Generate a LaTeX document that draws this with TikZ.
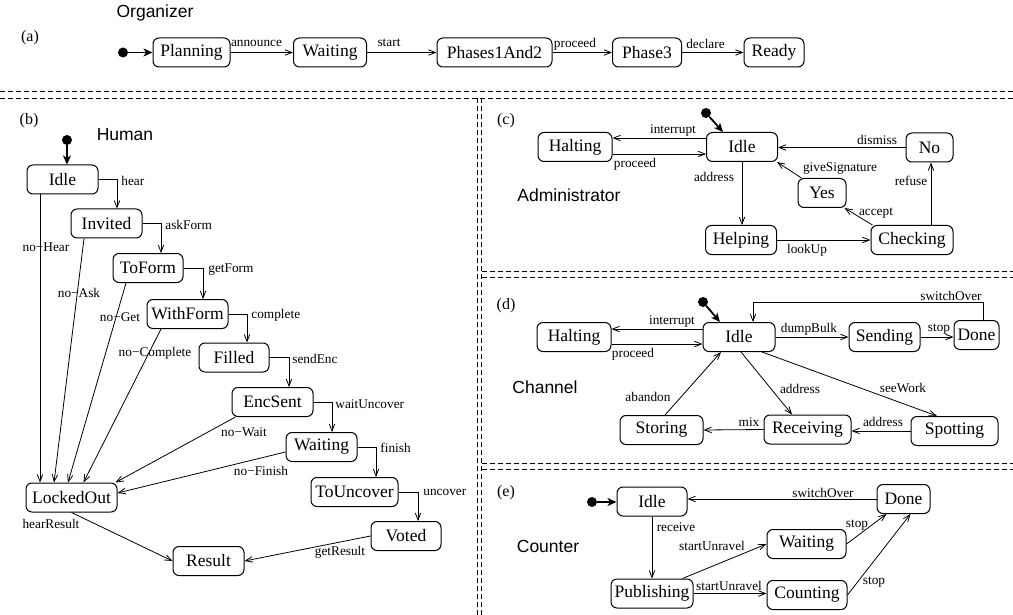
\documentclass[tikz,border=0pt]{standalone}
\usepackage{fontspec}
\setmainfont{Liberation Serif}
\newfontfamily\sansf{Liberation Sans}
\usetikzlibrary{arrows.meta}
\begin{document}
\begin{tikzpicture}[x=1pt,y=-1pt,
  state/.style={draw, line width=1pt, rounded corners=6pt, minimum height=29pt,
    inner sep=0pt, font=\fontsize{17.5}{20}\selectfont},
  tr/.style={line width=0.8pt, -{Straight Barb[length=7pt,width=5.5pt]}},
  lab/.style={inner sep=0pt, font=\fontsize{13.3}{15}\selectfont},
  init/.style={line width=1.8pt, -{Stealth[length=9pt,width=8pt,inset=2.5pt]}},
  dot/.style={circle, fill, inner sep=0pt, minimum size=10pt},
  sep/.style={line width=0.8pt, dash pattern=on 5pt off 3pt},
  title/.style={font=\sansf\fontsize{17.5}{20}\selectfont, inner sep=0pt},
  tag/.style={font=\fontsize{16}{18}\selectfont, inner sep=0pt}]
\useasboundingbox (0,0) rectangle (1013,615);

% panel separators
\draw[sep] (0,91.5) -- (1013,91.5);
\draw[sep] (0,98) -- (1013,98);
\draw[sep] (477.5,98) -- (477.5,615);
\draw[sep] (481.5,98) -- (481.5,615);
\draw[sep] (481.5,271) -- (1013,271);
\draw[sep] (481.5,277) -- (1013,277);
\draw[sep] (481.5,463) -- (1013,463);
\draw[sep] (481.5,469) -- (1013,469);

% ---------------- (a) Organizer ----------------
\node[title] (t-org) at (155,13) {Organizer};
\node[tag] (tag-a) at (30,38) {(a)};
\node[dot] (a0) at (123,52.5) {};
\node[state, minimum width=77pt] (planning) at (191.5,52.5) {Planning};
\node[state, minimum width=73pt] (waitA) at (330,52.5) {Waiting};
\node[state, minimum width=115pt] (phases) at (494.5,52.5) {Phases1And2};
\node[state, minimum width=69pt] (phase3) at (647,52.5) {Phase3};
\node[state, minimum width=60pt] (ready) at (774,52.5) {Ready};
\draw[init] (a0) -- (planning);
\draw[tr] (planning) -- (waitA);
\draw[tr] (waitA) -- (phases);
\draw[tr] (phases) -- (phase3);
\draw[tr] (phase3) -- (ready);
\node[lab] (l-announce) at (256.5,43) {announce};
\node[lab] (l-start) at (389,43) {start};
\node[lab] (l-proceedA) at (575,44.5) {proceed};
\node[lab] (l-declare) at (705.5,43.5) {declare};

% ---------------- (b) Human ----------------
\node[tag] (tag-b) at (29,121) {(b)};
\node[title] (t-human) at (125,135) {Human};
\node[dot] (b0) at (67,140) {};
\node[state, minimum width=71pt] (idleb) at (62.5,179.5) {Idle};
\node[state, minimum width=71pt] (invited) at (106.5,223.5) {Invited};
\node[state, minimum width=70pt] (toform) at (148,268) {ToForm};
\node[state, minimum width=81pt] (withform) at (187.5,314) {WithForm};
\node[state, minimum width=70pt] (filled) at (234,357.5) {Filled};
\node[state, minimum width=81pt] (encsent) at (272.5,402) {EncSent};
\node[state, minimum width=71pt] (waitB) at (321.5,447) {Waiting};
\node[state, minimum width=87pt] (touncover) at (354.5,492) {ToUncover};
\node[state, minimum width=70pt] (voted) at (406,536) {Voted};
\node[state, minimum width=71pt] (result) at (208.5,561) {Result};
\node[state, minimum width=91pt] (locked) at (71.5,497.5) {LockedOut};
\draw[init] (b0) -- (b0 |- idleb.north);

% forward steps
\draw[tr] (idleb.east) -| node[lab, anchor=west, pos=0.5, xshift=4pt, yshift=-1pt] (l-hear) {hear} ([xshift=10.5pt]invited.north);
\draw[tr] (invited.east) -| node[lab, anchor=west, pos=0.5, xshift=4pt, yshift=-1.5pt] (l-askform) {askForm} ([xshift=13pt]toform.north);
\draw[tr] (toform.east) -| node[lab, anchor=west, pos=0.5, xshift=5pt, yshift=-1.5pt] (l-getform) {getForm} ([xshift=15.5pt]withform.north);
\draw[tr] (withform.east) -| node[lab, anchor=west, pos=0.5, xshift=4pt, yshift=-1pt] (l-complete) {complete} ([xshift=13pt]filled.north);
\draw[tr] (filled.east) -| node[lab, anchor=west, pos=0.5, xshift=3pt, yshift=-1pt] (l-sendenc) {sendEnc} ([xshift=16.5pt]encsent.north);
\draw[tr] (encsent.east) -| node[lab, anchor=west, pos=0.5, xshift=3pt, yshift=-2pt] (l-waituncover) {waitUncover} ([xshift=10.5pt]waitB.north);
\draw[tr] (waitB.east) -| node[lab, anchor=west, pos=0.5, xshift=4pt, yshift=-1pt] (l-finish) {finish} ([xshift=21.5pt]touncover.north);
\draw[tr] (touncover.east) -| node[lab, anchor=west, pos=0.5, xshift=5pt, yshift=0pt] (l-uncover) {uncover} ([xshift=12pt]voted.north);

% ways out
\draw[tr] ([xshift=-22.5pt]idleb.south) -- ([xshift=-22.5pt]idleb.south |- locked.north);
\draw[tr] ([xshift=-22.5pt]invited.south) -- ([xshift=-17.5pt]locked.north);
\draw[tr] ([xshift=-22pt]toform.south) -- ([xshift=-3.5pt]locked.north);
\draw[tr] ([xshift=-26.5pt]withform.south) -- ([xshift=12pt]locked.north);
\draw[tr] ([xshift=4pt]encsent.south west) -- ([xshift=-2pt]locked.north east);
\draw[tr] ([yshift=-5pt]waitB.west) -- ([yshift=4.5pt]locked.east);
\draw[tr] (locked.south) -- (result.west);
\draw[tr] (voted.west) -- (result.east);
\node[lab] (l-nohear) at (46,247) {no−Hear};
\node[lab] (l-noask) at (79,293) {no−Ask};
\node[lab] (l-noget) at (120,317) {no−Get};
\node[lab] (l-nocomplete) at (155,353) {no−Complete};
\node[lab] (l-nowait) at (244,432) {no−Wait};
\node[lab] (l-nofinish) at (261,471) {no−Finish};
\node[lab] (l-hearresult) at (51,524) {hearResult};
\node[lab] (l-getresult) at (340,552) {getResult};

% ---------------- (c) Administrator ----------------
\node[tag] (tag-c) at (506,121) {(c)};
\node[title] (t-admin) at (569,195) {Administrator};
\node[dot] (c0) at (706,113) {};
\node[state, minimum width=74pt] (haltc) at (575,147) {Halting};
\node[state, minimum width=71pt] (idlec) at (742,147) {Idle};
\node[state, minimum width=71pt] (helping) at (741,240) {Helping};
\node[state, minimum width=82pt] (checking) at (912,240) {Checking};
\node[state, minimum width=47pt] (noc) at (929.5,147.5) {No};
\node[state, minimum width=48pt] (yes) at (822,193) {Yes};
\draw[init] (c0) -- ([xshift=-19pt]idlec.north);
\draw[tr] ([yshift=9pt]idlec.west) -- ([yshift=9pt]idlec.west -| haltc.east);
\draw[tr] ([yshift=-7pt]haltc.east) -- ([yshift=-7pt]haltc.east -| idlec.west);
\draw[tr] (idlec.south) -- (idlec.south |- helping.north);
\draw[tr] (helping.east) -- (helping.east -| checking.west);
\draw[tr] ([xshift=19pt]checking.north) -- ([xshift=19pt]checking.north |- noc.south);
\draw[tr] (noc.west) -- (noc.west -| idlec.east);
\draw[tr] ([xshift=2pt]checking.north west) -- ([xshift=-2pt]yes.south east);
\draw[tr] ([xshift=4pt]yes.north west) -- ([xshift=-1pt]idlec.south east);
\node[lab] (l-interruptc) at (673,131) {interrupt};
\node[lab] (l-proceedc) at (635,164) {proceed};
\node[lab] (l-addressc) at (714,177) {address};
\node[lab] (l-lookup) at (807,250) {lookUp};
\node[lab] (l-refuse) at (911,181) {refuse};
\node[lab] (l-dismiss) at (877,140) {dismiss};
\node[lab] (l-accept) at (876,213) {accept};
\node[lab] (l-givesig) at (840,169) {giveSignature};

% ---------------- (d) Channel ----------------
\node[tag] (tag-d) at (506,306) {(d)};
\node[title] (t-channel) at (545,387) {Channel};
\node[dot] (d0) at (703,302) {};
\node[state, minimum width=74pt] (haltd) at (574,337) {Halting};
\node[state, minimum width=72pt] (idled) at (739,337) {Idle};
\node[state, minimum width=71pt] (sending) at (884.5,337) {Sending};
\node[state, minimum width=45pt] (doned) at (976.5,335) {Done};
\node[state, minimum width=87pt] (receiving) at (807.5,429.5) {Receiving};
\node[state, minimum width=87pt] (spotting) at (954.5,431) {Spotting};
\node[state, minimum width=83pt] (storing) at (661.5,430) {Storing};
\draw[init] (d0) -- ([xshift=-19pt]idled.north);
\draw[tr] ([yshift=8pt]idled.west) -- ([yshift=8pt]idled.west -| haltd.east);
\draw[tr] ([yshift=-7pt]haltd.east) -- ([yshift=-7pt]haltd.east -| idled.west);
\draw[tr] (idled.east) -- (sending.west);
\draw[tr] (sending.east) -- (sending.east -| doned.west);
\draw[tr] ([xshift=6.5pt]doned.north) -- ++(0,-17.5) -| ([xshift=14pt]idled.north);
\draw[tr] ([xshift=2pt]idled.south) -- ([xshift=-15.5pt]receiving.north);
\draw[tr] ([xshift=23pt]idled.south) -- ([xshift=-17.5pt]spotting.north);
\draw[tr] (spotting.west) -- (spotting.west -| receiving.east);
\draw[tr] (receiving.west) -- (storing.east);
\draw[tr] ([xshift=3.5pt]storing.north) -- ([xshift=-18pt]idled.south);
\node[lab] (l-interruptd) at (672,322) {interrupt};
\node[lab] (l-proceedd) at (633,354) {proceed};
\node[lab] (l-dumpbulk) at (809,329) {dumpBulk};
\node[lab] (l-stopd) at (939,329) {stop};
\node[lab] (l-switchd) at (951,296) {switchOver};
\node[lab] (l-addressd) at (800,389) {address};
\node[lab] (l-seework) at (903,388) {seeWork};
\node[lab] (l-addressd2) at (883,422) {address};
\node[lab] (l-mix) at (749,422) {mix};
\node[lab] (l-abandon) at (648,397) {abandon};

% ---------------- (e) Counter ----------------
\node[tag] (tag-e) at (506,493) {(e)};
\node[title] (t-counter) at (548,546) {Counter};
\node[dot] (e0) at (592,502) {};
\node[state, minimum width=70pt] (idlee) at (652,501.5) {Idle};
\node[state, minimum width=53pt] (donee) at (903.5,499) {Done};
\node[state, minimum width=82pt] (publishing) at (652,593.5) {Publishing};
\node[state, minimum width=79pt] (waitE) at (806.5,544) {Waiting};
\node[state, minimum width=80pt] (counting) at (807,595) {Counting};
\draw[init] (e0) -- (e0 -| idlee.west);
\draw[tr] (donee.west) -- (donee.west -| idlee.east);
\draw[tr] (idlee.south) -- (idlee.south |- publishing.north);
\draw[tr] ([xshift=-11pt]publishing.north east) -- (waitE.west);
\draw[tr] (publishing.east) -- (publishing.east -| counting.west);
\draw[tr] (waitE.east) -- ([xshift=10pt]donee.south west);
\draw[tr] (counting.east) -- ([xshift=7pt]donee.south);
\node[lab] (l-switche) at (823,493) {switchOver};
\node[lab] (l-receive) at (676,527) {receive};
\node[lab] (l-unravel1) at (712,546) {startUnravel};
\node[lab] (l-unravel2) at (729,586) {startUnravel};
\node[lab] (l-stope1) at (857,525) {stop};
\node[lab] (l-stope2) at (874,582) {stop};
\end{tikzpicture}
\end{document}
